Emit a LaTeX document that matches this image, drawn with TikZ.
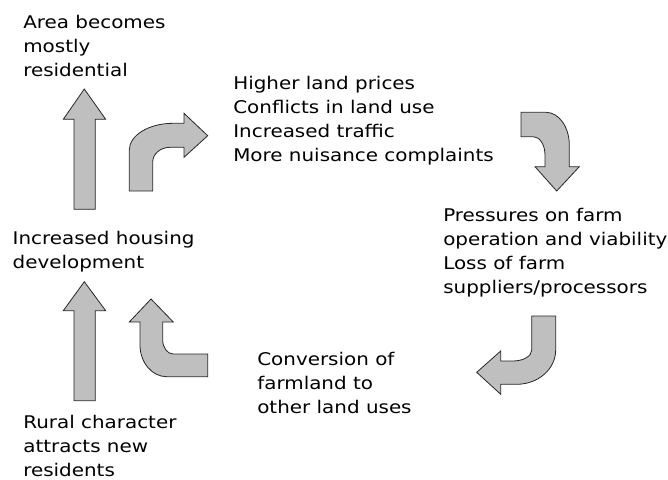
\documentclass[tikz,border=0pt]{standalone}
\usepackage{fontspec}
\setmainfont{DejaVu Sans}[FakeStretch=1.14]
\begin{document}
\begin{tikzpicture}[x=0.75pt,y=-0.75pt,line width=0.6pt]
	\tikzstyle{every node}=[inner sep=0pt,outer sep=0pt,anchor=base west,align=left,text=black,font=\fontsize{13.1}{18}\selectfont]
	\tikzstyle{barrow}=[draw=black!85,fill=black!25,line join=miter] % block arrow
	\useasboundingbox (0,0) rectangle (668,479);
	% labels (placed at baseline of last line)
	\node(residential) at (23.3,76) {Area becomes\\mostly\\residential};
	\node(prices) at (233.3,161.7) {Higher land prices\\Conflicts in land use\\Increased traffic\\More nuisance complaints};
	\node(pressures) at (443.3,293.3) {Pressures on farm\\operation and viability\\Loss of farm\\suppliers/processors};
	\node(conversion) at (257.3,413.3) {Conversion of\\farmland to\\other land uses};
	\node(housing) at (12.7,268.3) {Increased housing\\development};
	\node(rural) at (23.3,476.8) {Rural character\\attracts new\\residents};
	% straight arrows
	\draw[barrow] (74,209.3) -- (74,119.3) -- (63.3,119.3) -- (84.3,89) -- (105.7,119.3) -- (95.3,119.3) -- (95.3,209.3) -- cycle;
	\draw[barrow] (74,400.7) -- (74,310.7) -- (63.3,310.7) -- (84.3,281.7) -- (105.7,310.7) -- (95.3,310.7) -- (95.3,400.7) -- cycle;
	% bent arrows
	\draw[barrow] (129.3,191) -- (129.3,150) .. controls (129.3,135.3) and (148.9,123.3) .. (173,123.3) -- (184,123.3) -- (184,113.3) -- (207.7,135.7) -- (184,157.3) -- (184,147.3) -- (170,147.3) .. controls (160.5,147.3) and (152.7,153.9) .. (152.7,162) -- (152.7,191) -- cycle;
	\draw[barrow] (521,112.3) -- (546,112.3) .. controls (558.9,112.3) and (569.3,127) .. (569.3,145) -- (569.3,166.7) -- (579.3,166.7) -- (556.7,191) -- (535,166.7) -- (545,166.7) -- (545,155) .. controls (545,144.9) and (539.8,136.7) .. (533.3,136.7) -- (521,136.7) -- cycle;
	\draw[barrow] (555.7,316) -- (555.7,350) .. controls (555.7,369) and (538.2,384.3) .. (516.7,384.3) -- (500.7,384.3) -- (500.7,394.3) -- (476.7,372.3) -- (500.7,351) -- (500.7,361) -- (513,361) .. controls (523.3,361) and (531.7,356.1) .. (531.7,350) -- (531.7,316) -- cycle;
	\draw[barrow] (207.7,376.7) -- (166.7,376.7) .. controls (152,376.7) and (140,362.5) .. (140,345) -- (140,322) -- (129.3,322) -- (151,299) -- (173.3,322) -- (162.7,322) -- (162.7,340) .. controls (162.7,347.7) and (167.4,354) .. (173.3,354) -- (207.7,354) -- cycle;
\end{tikzpicture}
\end{document}
